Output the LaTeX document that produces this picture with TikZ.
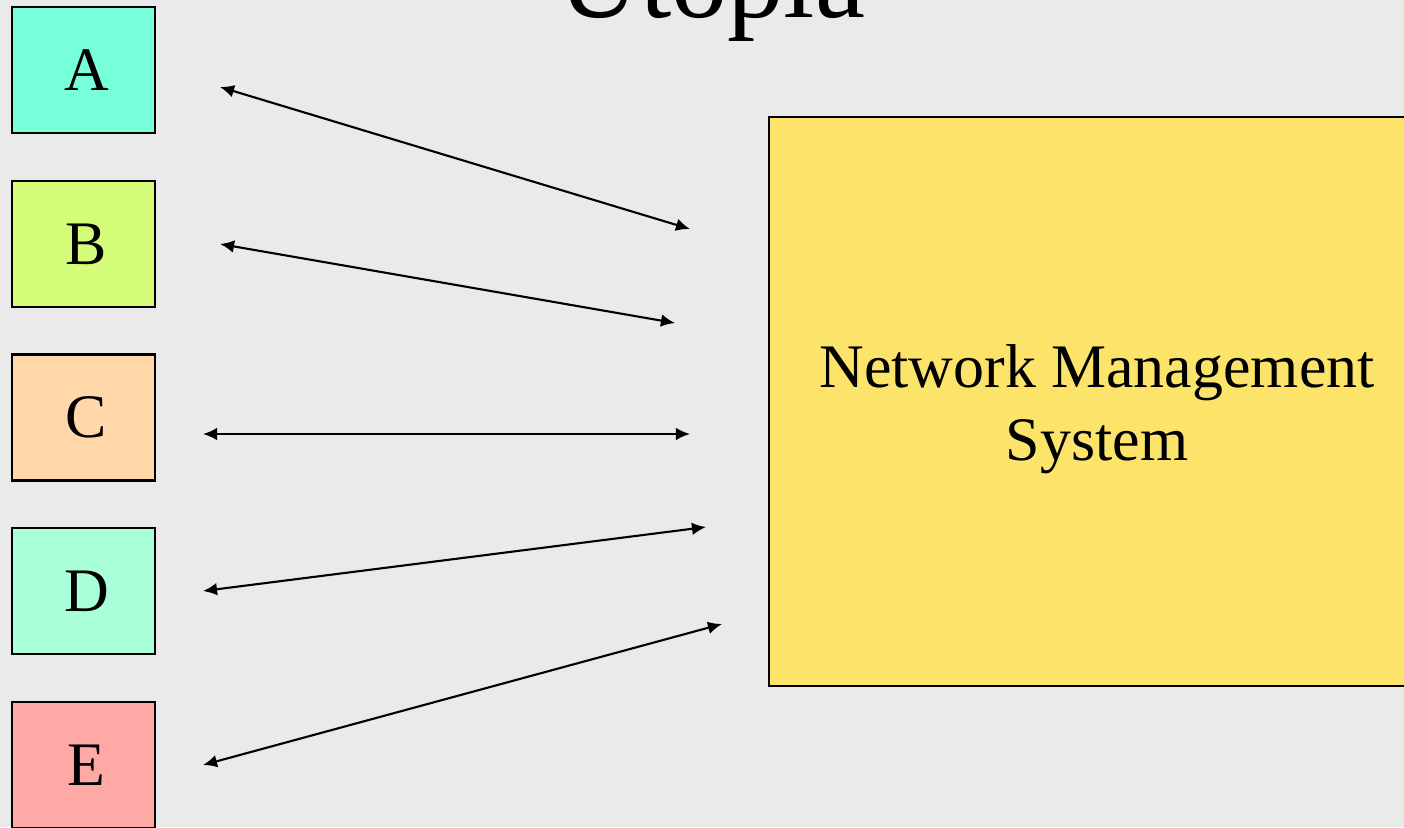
\documentclass[tikz,border=0pt]{standalone}
\usepackage{fontspec}
\setmainfont{Liberation Serif}
\usetikzlibrary{arrows.meta}

\definecolor{slidebg}{HTML}{EAEAEA}
\definecolor{devA}{HTML}{76FFD9}
\definecolor{devB}{HTML}{D5FC79}
\definecolor{devC}{HTML}{FFD7A9}
\definecolor{devD}{HTML}{A9FFD7}
\definecolor{devE}{HTML}{FFA9A6}
\definecolor{nmsyellow}{HTML}{FCE36A}

\begin{document}
\begin{tikzpicture}[x=0.01cm,y=-0.01cm,
    devbox/.style={draw,line width=0.6pt,minimum width=1.43cm,minimum height=1.26cm,
        inner sep=0pt,font=\fontsize{17.6}{21}\selectfont},
    link/.style={{Latex[length=4pt,width=3.6pt]}-{Latex[length=4pt,width=3.6pt]},line width=0.6pt}]
    \useasboundingbox (0,0) rectangle (1404,827);
    \clip (0,0) rectangle (1404,827);
    \fill[slidebg] (0,0) rectangle (1404,827);
    \node[font=\fontsize{32}{38}\selectfont,anchor=base,inner sep=0pt] (title) at (712,17) {Utopia};
    \node[draw,line width=0.6pt,fill=nmsyellow,minimum width=6.56cm,minimum height=5.69cm] (nms) at (1097,401.5) {};
    \node[align=center,font=\fontsize{17.6}{20.8}\selectfont] (nmstext) at ([yshift=-0.08cm]nms.center) {Network Management\\System};
    \foreach \n/\c/\y in {A/devA/70, B/devB/244, C/devC/417.5, D/devD/591, E/devE/765} {
        \node[devbox,fill=\c] (\n) at (83.5,\y) {\hspace*{0.06cm}\n};
    }
    \foreach \n/\xa/\ya/\xb/\yb in {A/220/87/690/229, B/220/244/675/323, C/203/434/690/434,
                                    D/203/591/706/527, E/203/765/722/624} {
        \coordinate (\n-dev) at (\xa,\ya);
        \coordinate (\n-nms) at (\xb,\yb);
        \draw[link] (\n-dev) -- (\n-nms);
    }
\end{tikzpicture}
\end{document}
